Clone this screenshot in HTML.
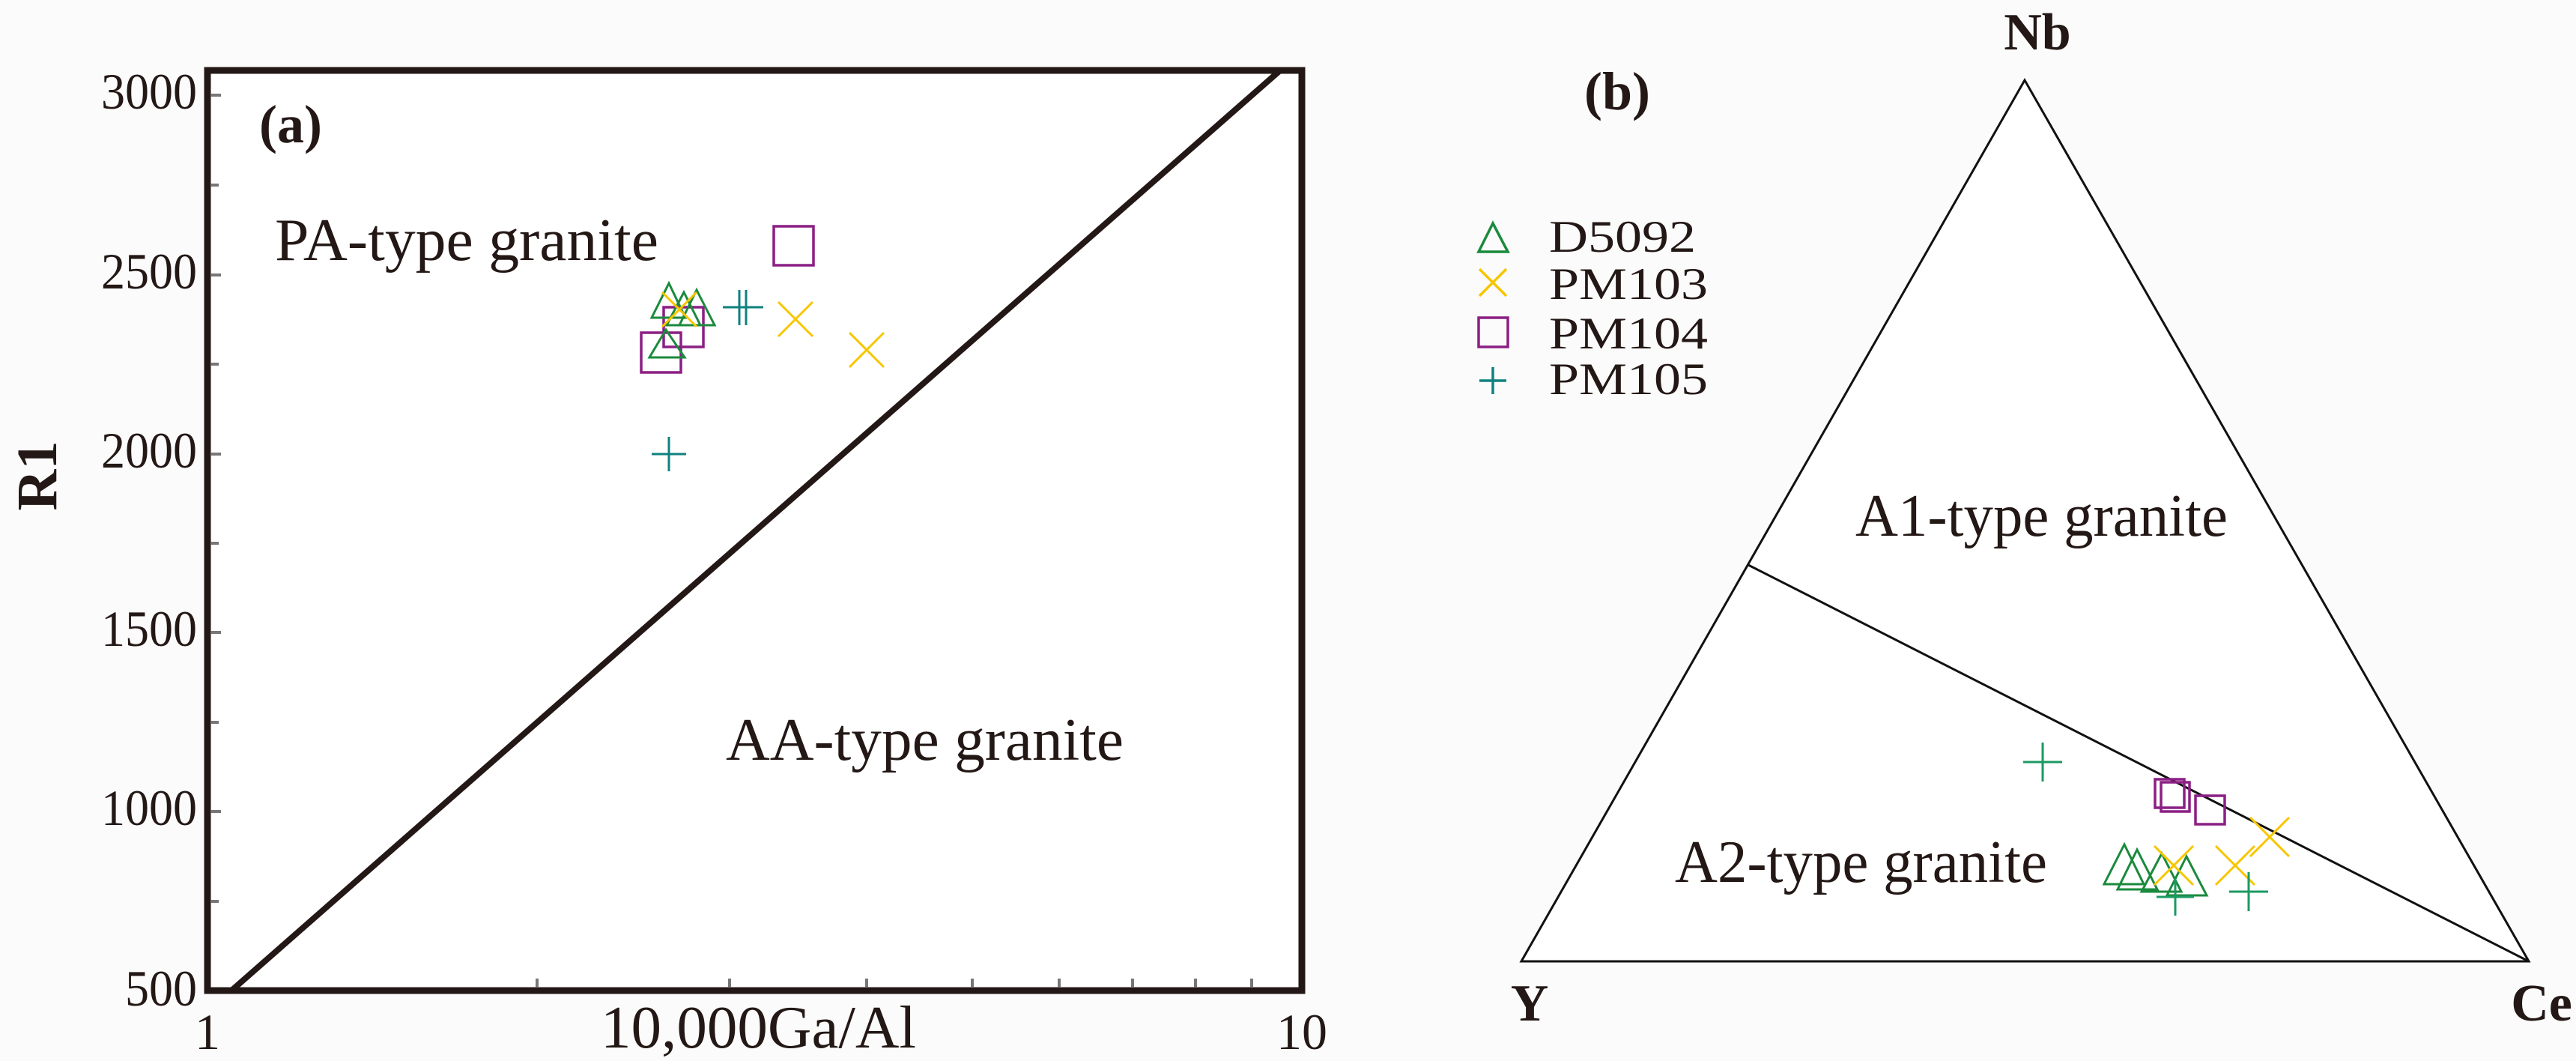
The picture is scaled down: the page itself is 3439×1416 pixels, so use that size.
<!DOCTYPE html>
<html><head><meta charset="utf-8"><style>
html,body{margin:0;padding:0;background:#fbfbfb;}
svg{display:block;}
text{font-family:"Liberation Serif",serif;fill:#231815;}
</style></head><body>
<svg width="3439" height="1416" viewBox="0 0 3439 1416" xmlns="http://www.w3.org/2000/svg">
<rect width="3439" height="1416" fill="#fbfbfb"/>
<!-- Panel a -->
<rect x="277" y="94" width="1461" height="1228" fill="#fff" stroke="#231815" stroke-width="9"/>
<g stroke="#777" stroke-width="4">
<line x1="281" y1="127" x2="295" y2="127"/><line x1="281" y1="247" x2="292" y2="247"/>
<line x1="281" y1="367" x2="295" y2="367"/><line x1="281" y1="486" x2="292" y2="486"/>
<line x1="281" y1="606" x2="295" y2="606"/><line x1="281" y1="725" x2="292" y2="725"/>
<line x1="281" y1="844" x2="295" y2="844"/><line x1="281" y1="964" x2="292" y2="964"/>
<line x1="281" y1="1083" x2="295" y2="1083"/><line x1="281" y1="1203" x2="292" y2="1203"/>
<line x1="717" y1="1318" x2="717" y2="1306"/><line x1="974" y1="1318" x2="974" y2="1306"/>
<line x1="1157" y1="1318" x2="1157" y2="1306"/><line x1="1298" y1="1318" x2="1298" y2="1306"/>
<line x1="1414" y1="1318" x2="1414" y2="1306"/><line x1="1512" y1="1318" x2="1512" y2="1306"/>
<line x1="1596" y1="1318" x2="1596" y2="1306"/><line x1="1671" y1="1318" x2="1671" y2="1306"/>
</g>
<line x1="309" y1="1322" x2="1709" y2="94" stroke="#231815" stroke-width="8"/>
<g font-size="68" text-anchor="end" lengthAdjust="spacingAndGlyphs">
<text x="263" y="145" textLength="128" lengthAdjust="spacingAndGlyphs">3000</text><text x="263" y="385" textLength="128" lengthAdjust="spacingAndGlyphs">2500</text>
<text x="263" y="624" textLength="128" lengthAdjust="spacingAndGlyphs">2000</text><text x="263" y="862" textLength="128" lengthAdjust="spacingAndGlyphs">1500</text>
<text x="263" y="1101" textLength="128" lengthAdjust="spacingAndGlyphs">1000</text><text x="263" y="1342" textLength="96" lengthAdjust="spacingAndGlyphs">500</text>
</g>
<g font-size="68" text-anchor="middle">
<text x="277" y="1400">1</text><text x="1738" y="1400">10</text>
</g>
<text x="802" y="1398" font-size="80" textLength="421" lengthAdjust="spacingAndGlyphs">10,000Ga/Al</text>
<text transform="translate(75,635) rotate(-90)" font-size="76" font-weight="bold" text-anchor="middle">R1</text>
<text x="346" y="190" font-size="72" font-weight="bold">(a)</text>
<text x="367" y="347" font-size="80" textLength="512" lengthAdjust="spacingAndGlyphs">PA-type granite</text>
<text x="969" y="1014" font-size="80" textLength="531" lengthAdjust="spacingAndGlyphs">AA-type granite</text>
<!-- markers a -->
<g fill="none" stroke="#8b1f84" stroke-width="3.5">
<rect x="1033" y="302" width="53" height="52"/>
<rect x="886" y="410" width="53" height="53"/>
<rect x="856" y="444" width="53" height="53"/>
</g>
<g fill="none" stroke="#1a8a3c" stroke-width="3">
<polygon points="893,378 870,424 915,424"/>
<polygon points="913,390 890,434 935,434"/>
<polygon points="930,387 907,434 954,434"/>
<polygon points="889,440 867,477 914,477"/>
</g>
<g stroke="#f7c600" stroke-width="3">
<line x1="884" y1="390" x2="930" y2="436"/><line x1="930" y1="390" x2="884" y2="436"/>
<line x1="1039" y1="403" x2="1085" y2="449"/><line x1="1085" y1="403" x2="1039" y2="449"/>
<line x1="1134" y1="444" x2="1180" y2="490"/><line x1="1180" y1="444" x2="1134" y2="490"/>
</g>
<g stroke="#0f8180" stroke-width="3">
<line x1="987" y1="387" x2="987" y2="434"/><line x1="996" y1="387" x2="996" y2="434"/>
<line x1="965" y1="410" x2="1019" y2="410"/>
<line x1="893" y1="583" x2="893" y2="629"/><line x1="870" y1="606" x2="916" y2="606"/>
</g>
<!-- Panel b -->
<polygon points="2703,107 2031,1283 3376,1283" fill="#fff" stroke="#111" stroke-width="3"/>
<line x1="2334" y1="754" x2="3376" y2="1283" stroke="#111" stroke-width="3"/>
<text x="2720" y="66" font-size="70" font-weight="bold" text-anchor="middle">Nb</text>
<text x="2042" y="1362" font-size="70" font-weight="bold" text-anchor="middle">Y</text>
<text x="3393" y="1362" font-size="70" font-weight="bold" text-anchor="middle">Ce</text>
<text x="2115" y="146" font-size="72" font-weight="bold">(b)</text>
<text x="2477" y="715" font-size="80" textLength="497" lengthAdjust="spacingAndGlyphs">A1-type granite</text>
<text x="2236" y="1177" font-size="80" textLength="497" lengthAdjust="spacingAndGlyphs">A2-type granite</text>
<!-- legend -->
<polygon points="1993,298 1974,336 2013,336" fill="none" stroke="#1a8a3c" stroke-width="3.5"/>
<line x1="1975" y1="359" x2="2011" y2="395" stroke="#f7c600" stroke-width="3.5"/><line x1="2011" y1="359" x2="1975" y2="395" stroke="#f7c600" stroke-width="3.5"/>
<rect x="1974" y="424" width="39" height="39" fill="none" stroke="#8b1f84" stroke-width="3.5"/>
<line x1="1993" y1="490" x2="1993" y2="526" stroke="#0f8180" stroke-width="3.5"/><line x1="1975" y1="508" x2="2011" y2="508" stroke="#0f8180" stroke-width="3.5"/>
<g font-size="60">
<text x="2068" y="336" textLength="196" lengthAdjust="spacingAndGlyphs">D5092</text>
<text x="2068" y="399" textLength="212" lengthAdjust="spacingAndGlyphs">PM103</text>
<text x="2068" y="465" textLength="212" lengthAdjust="spacingAndGlyphs">PM104</text>
<text x="2068" y="526" textLength="212" lengthAdjust="spacingAndGlyphs">PM105</text>
</g>
<!-- markers b -->
<g fill="none" stroke="#8b1f84" stroke-width="3.5">
<rect x="2877" y="1040" width="39" height="38"/>
<rect x="2885" y="1044" width="38" height="39"/>
<rect x="2931" y="1062" width="39" height="38"/>
</g>
<g fill="none" stroke="#1a8a3c" stroke-width="3">
<polygon points="2836,1127 2809,1180 2862,1180"/>
<polygon points="2853,1134 2827,1187 2880,1187"/>
<polygon points="2886,1139 2859,1190 2912,1190"/>
<polygon points="2919,1143 2893,1195 2946,1195"/>
</g>
<g stroke="#f7c600" stroke-width="3">
<line x1="3004" y1="1091" x2="3056" y2="1143"/><line x1="3056" y1="1091" x2="3004" y2="1143"/>
<line x1="2958" y1="1129" x2="3010" y2="1181"/><line x1="3010" y1="1129" x2="2958" y2="1181"/>
<line x1="2876" y1="1129" x2="2928" y2="1181"/><line x1="2928" y1="1129" x2="2876" y2="1181"/>
</g>
<g stroke="#1b9a62" stroke-width="3">
<line x1="2727" y1="991" x2="2727" y2="1043"/><line x1="2701" y1="1017" x2="2753" y2="1017"/>
<line x1="2904" y1="1172" x2="2904" y2="1222"/><line x1="2879" y1="1197" x2="2929" y2="1197"/>
<line x1="3002" y1="1164" x2="3002" y2="1216"/><line x1="2976" y1="1190" x2="3028" y2="1190"/>
</g>
</svg>
</body></html>
